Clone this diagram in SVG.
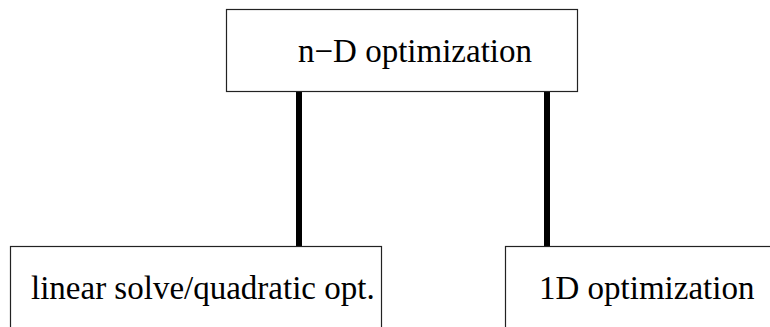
<svg xmlns="http://www.w3.org/2000/svg" width="770" height="327" viewBox="0 0 770 327">
<style>
.box{fill:#fff;stroke:#222;stroke-width:1.2}
.lbl{font-size:33px;fill:#000}
.edge{stroke:#000;stroke-width:6;fill:none}
</style>
<rect width="770" height="327" fill="#fff"/>
<g id="connectors">
<line class="edge" x1="299" y1="91" x2="299" y2="246"/>
<line class="edge" x1="547" y1="91" x2="547" y2="246"/>
</g>
<g id="node-nd">
<rect class="box" x="226.5" y="9.5" width="351" height="82"/>
<text class="lbl" font-family="'Liberation Serif', 'DejaVu Serif', serif" x="298" y="62">n−D optimization</text>
</g>
<g id="node-linear">
<rect class="box" x="10.5" y="246.5" width="371" height="90"/>
<text class="lbl" font-family="'Liberation Serif', 'DejaVu Serif', serif" x="31" y="299">linear solve/quadratic opt.</text>
</g>
<g id="node-1d">
<rect class="box" x="505.5" y="246.5" width="280" height="90"/>
<text class="lbl" font-family="'Liberation Serif', 'DejaVu Serif', serif" x="539" y="299">1D optimization</text>
</g>
</svg>
